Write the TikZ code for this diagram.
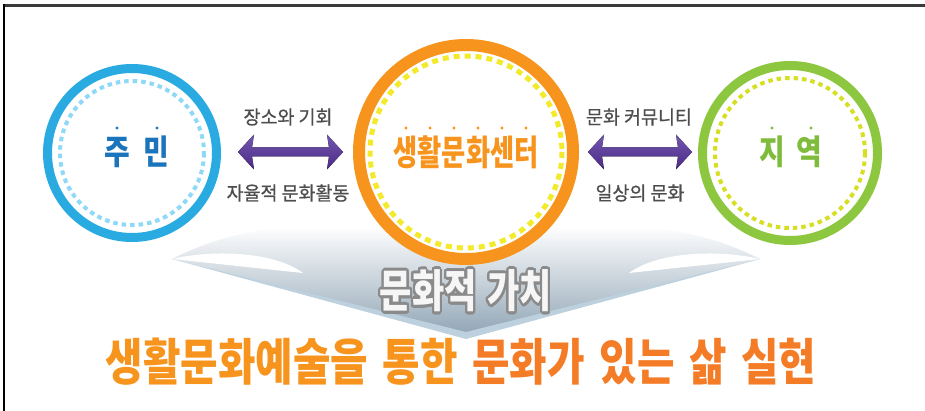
\documentclass[tikz,border=0pt]{standalone}
\usepackage{fontspec}
\usepackage{graphicx}
\usepackage{contour}
\usetikzlibrary{calc}
\newfontfamily\kr{Noto Sans CJK KR}
\newfontfamily\krmed[FakeBold=0.7]{Noto Sans CJK KR}
\contournumber{32}
\definecolor{frameline}{HTML}{3A3A3A}
\definecolor{bluering}{HTML}{29ABE2}
\definecolor{bluedash}{HTML}{8ED8F8}
\definecolor{bluetext}{HTML}{1B75BC}
\definecolor{orangering}{HTML}{F7941D}
\definecolor{yellowdash}{HTML}{F2EA2A}
\definecolor{orangetext}{HTML}{F7941D}
\definecolor{greenring}{HTML}{8DC63F}
\definecolor{greendash}{HTML}{D7DF23}
\definecolor{greentext}{HTML}{80BC3C}
\definecolor{purtop}{HTML}{7357B0}
\definecolor{purbot}{HTML}{4A2A85}
\definecolor{labelgray}{HTML}{4D4D4D}
\definecolor{chevmid}{HTML}{C9D3DB}
\definecolor{chevbot}{HTML}{93A7B7}
\definecolor{chevhi}{HTML}{EEF1F4}
\definecolor{chevband}{HTML}{BCD0DE}
\definecolor{valoutline}{HTML}{8A8A8A}
\definecolor{valfill}{HTML}{F6F6F6}
\definecolor{mainA}{HTML}{F7941D}
\definecolor{mainB}{HTML}{F47C26}
\pgfdeclareverticalshading{chevshade}{100bp}{color(0bp)=(chevbot); color(25bp)=(chevbot); color(50bp)=(chevmid); color(68bp)=(chevhi); color(75bp)=(white); color(100bp)=(white)}
\tikzset{
  ringnode/.style={circle, inner sep=0pt, fill=white, line width=#1},
  dashring/.style={line width=4pt, dash pattern=on 4.5pt off 4pt},
  circtext/.style={inner sep=0pt, font=\kr\bfseries\fontsize{34}{34}\selectfont},
  lbl/.style={inner sep=0pt, text=labelgray, font=\krmed\fontsize{19}{19}\selectfont},
  purparrow/.style={top color=purtop, bottom color=purbot},
  empdot/.style={fill=#1, draw=none},
}
\newcommand{\fatarrowpath}[2]{%
  ($(#1)$) -- ($(#1)+(16,-17.5)$) -- ($(#1)+(14,-4.5)$) -- ($(#2)+(-14,-4.5)$) --
  ($(#2)+(-16,-17.5)$) -- ($(#2)$) -- ($(#2)+(-16,17.5)$) -- ($(#2)+(-14,4.5)$) --
  ($(#1)+(14,4.5)$) -- ($(#1)+(16,17.5)$) -- cycle}
\begin{document}
\begin{tikzpicture}[x=1pt, y=-1pt]
\useasboundingbox (0,0) rectangle (925,411);
\fill[white] (0,0) rectangle (925,411);
% frame
\draw[frameline, line width=2.5pt] (3.3,5.3) -- (925,5.3);
\draw[black, line width=2pt] (4.3,4) -- (4.3,411);
% chevron
\coordinate (ltip) at (172,259);
\coordinate (rtip) at (760,259);
\coordinate (ctip) at (466,339);
\shade[shading=chevshade]
  (ltip) .. controls (200,245) and (240,229) .. (300,227) -- (632,227)
  .. controls (692,229) and (732,245) .. (rtip) -- (466,333) -- cycle;
\fill[chevband] (ltip) -- (ctip) -- (rtip) -- (466,332) -- cycle;
\fill[white] (ltip) .. controls (215,249) and (275,252) .. (303,273) -- cycle;
\fill[white] (rtip) .. controls (717,249) and (657,252) .. (629,273) -- cycle;
% circles
\node[ringnode=9pt, draw=bluering, minimum size=169pt] (jumin) at (132,153) {};
\draw[bluedash, dashring] (jumin.center) circle[radius=72];
\node[ringnode=12pt, draw=orangering, minimum size=214pt] (center) at (466,152) {};
\draw[yellowdash, dashring, line width=5pt, dash pattern=on 6pt off 5pt] (center.center) circle[radius=96];
\node[ringnode=9pt, draw=greenring, minimum size=175pt] (jiyeok) at (790,153) {};
\draw[greendash, dashring] (jiyeok.center) circle[radius=75];
% circle texts
\node[circtext, text=bluetext] (t1) at (137,152) {\scalebox{0.82}[1]{주\hspace{16pt}민}};
\node[circtext, text=orangetext, font=\kr\bfseries\fontsize{35}{35}\selectfont] (t2) at (466,152) {\scalebox{0.75}[1]{생활문화센터}};
\node[circtext, text=greentext] (t3) at (791,152) {\scalebox{0.82}[1]{지\hspace{14pt}역}};
% emphasis dots
\foreach \x in {117,157} \fill[empdot=bluetext] (\x,128) circle[radius=1.7];
\foreach \x in {406,430,454,478,502,526} \fill[empdot=orangetext] (\x,128) circle[radius=1.7];
\foreach \x in {772,811} \fill[empdot=greentext] (\x,128) circle[radius=1.7];
% arrows
\coordinate (a1l) at (238,152);
\coordinate (a1r) at (343,152);
\coordinate (a2l) at (588,152);
\coordinate (a2r) at (692,152);
\fill[purparrow] \fatarrowpath{a1l}{a1r};
\fill[purparrow] \fatarrowpath{a2l}{a2r};
% labels
\node[lbl] (l1) at (288,117) {\scalebox{0.97}[1]{장소와 기회}};
\node[lbl] (l2) at (288,193) {\scalebox{0.97}[1]{자율적 문화활동}};
\node[lbl] (l3) at (639,117) {\scalebox{0.97}[1]{문화 커뮤니티}};
\node[lbl] (l4) at (640,193) {\scalebox{0.97}[1]{일상의 문화}};
% value text
\node[inner sep=0pt, text=valfill, font=\kr\bfseries\fontsize{45}{45}\selectfont] (value) at (466,292)
  {\contourlength{2.6pt}\scalebox{0.78}[1]{\contour{valoutline}{문화적\hspace{14pt}가치}}};
% main text
\node[inner sep=0pt, font=\kr\bfseries\fontsize{50}{50}\selectfont] (main) at (461,362)
  {\scalebox{0.815}[1]{\textcolor{mainA}{생활문화예술을\hspace{18pt}통한}\hspace{18pt}\textcolor{mainB}{문화가\hspace{18pt}있는\hspace{18pt}삶\hspace{18pt}실현}}};
\end{tikzpicture}
\end{document}
